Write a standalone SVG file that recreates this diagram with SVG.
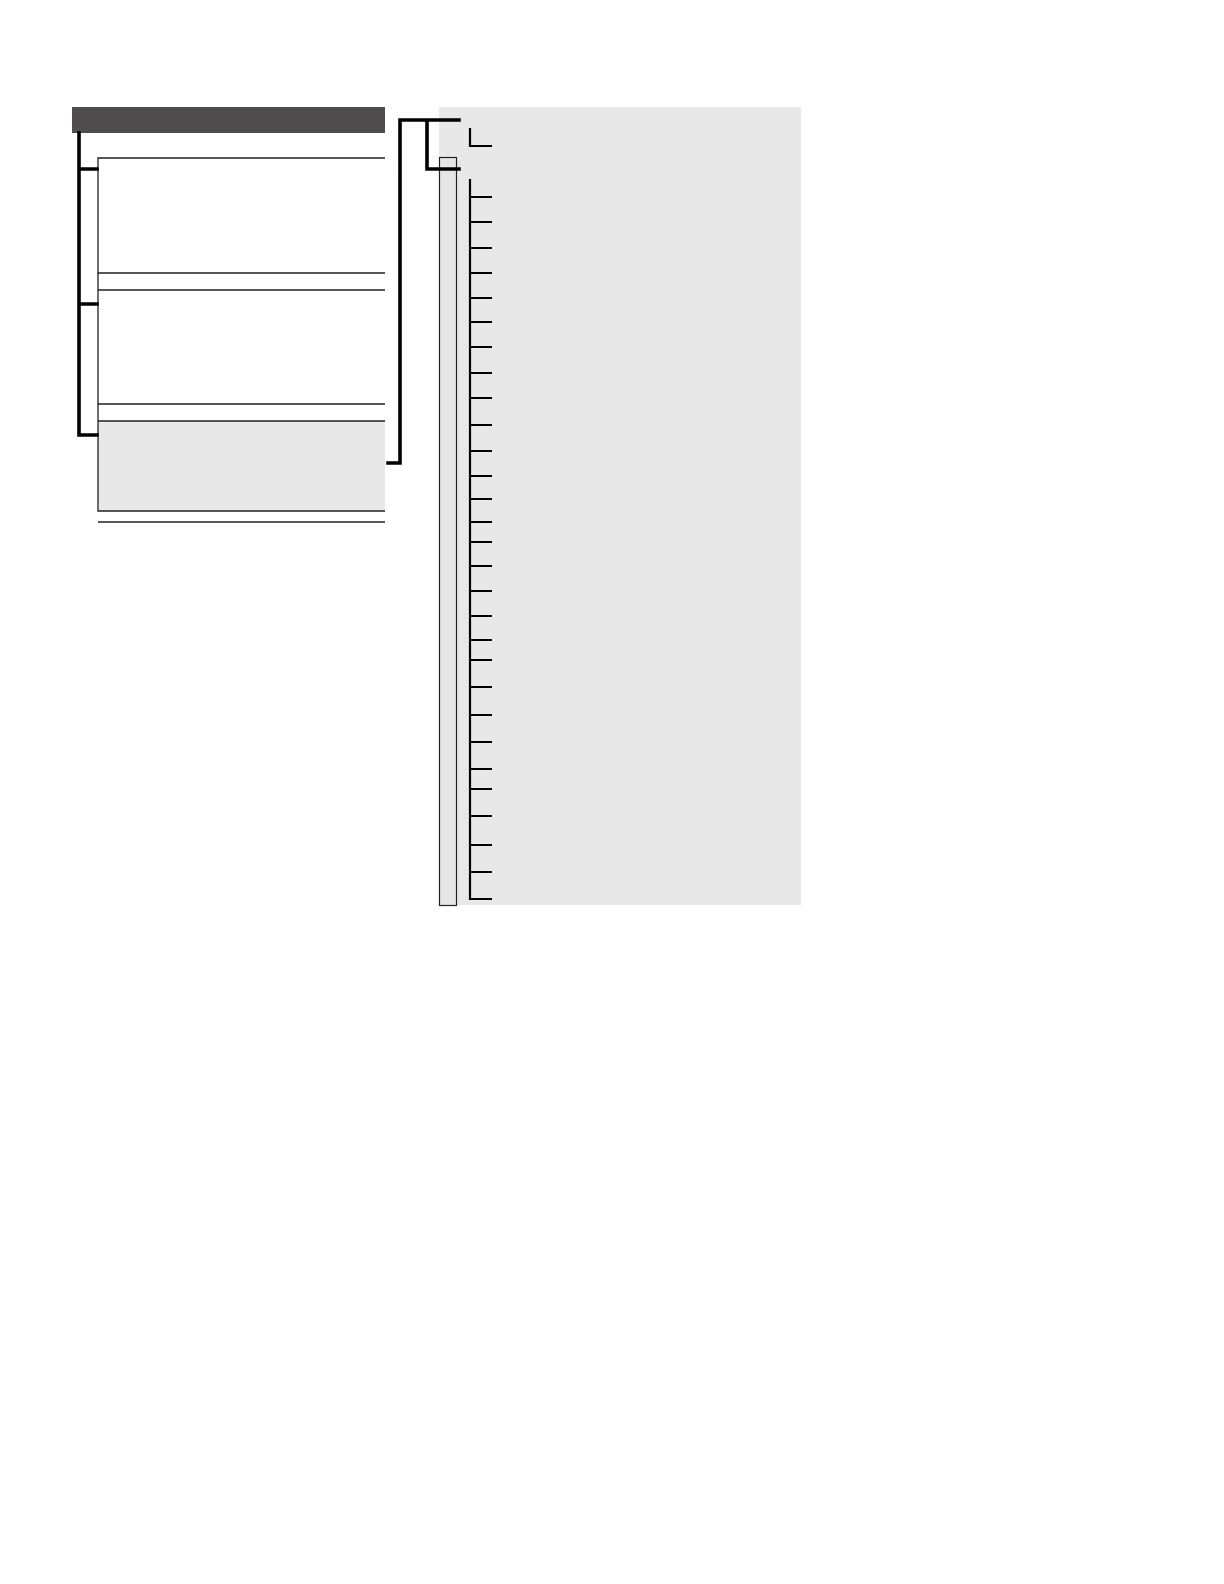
<svg xmlns="http://www.w3.org/2000/svg" width="1224" height="1584" viewBox="0 0 1224 1584">
<style>
.thin{stroke:#222;stroke-width:1.3;fill:none}
.br{stroke:#000;stroke-width:3.6;fill:none;stroke-linecap:square}
.tk{stroke:#000;stroke-width:2.2;fill:none}
</style>
<rect width="1224" height="1584" fill="#fff"/>
<g id="header"><rect x="72" y="107" width="313" height="26" fill="#4f4d4e"/></g>
<g id="box1"><path class="thin" d="M385,158H98V273H385"/></g>
<g id="box2"><path class="thin" d="M385,290H98V404H385M98,273V290"/></g>
<g id="box3"><rect x="98" y="421" width="287" height="90" fill="#e8e8e8"/><path class="thin" d="M385,421H98V511H385M98,404V421"/></g>
<g id="footer-line"><path class="thin" d="M98,522H385"/></g>
<g id="panel"><rect x="439" y="107" width="362" height="798" fill="#e8e8e8"/></g>
<g id="column"><rect x="439.5" y="157.5" width="17" height="748" fill="#e6e6e6" stroke="#222" stroke-width="1.2"/></g>
<g id="connectors">
<path class="br" d="M79,133V435H97M79,169H97M79,304H97"/>
<path class="br" d="M388,463H400V120H459M427,120V169H459"/>
<path class="tk" d="M470,128V146H492"/>
<path class="tk" d="M470,179V900"/>
<path class="tk" d="M470,197H492M470,222H492M470,248H492M470,273H492M470,298H492M470,322H492M470,347H492M470,373H492M470,398H492M470,425H492M470,451H492M470,476H492M470,499H492M470,522H492M470,542H492M470,566H492M470,591H492M470,616H492M470,640H492M470,660H492M470,687H492M470,715H492M470,742H492M470,769H492M470,789H492M470,816H492M470,845H492M470,872H492M470,899H492"/>
</g>
</svg>
